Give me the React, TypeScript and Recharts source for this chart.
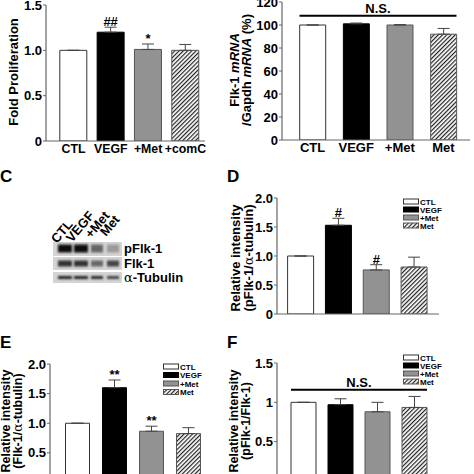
import React from 'react';
import { BarChart, Bar, XAxis, YAxis, Cell, ErrorBar, LabelList, ReferenceLine, Legend } from 'recharts';

const FONT = '"Liberation Sans", Arial, Helvetica, sans-serif';

// panel A - proliferation
const prolifGroups = ['CTL', 'VEGF', '+Met', '+comC'];
const prolifMean = [1.0, 1.2, 1.01, 1.0];
const prolifErr = [0, 0.055, 0.06, 0.065];
const prolifSig = ['', '##', '*', ''];

// shared groups for B, D, E, F
const groups = ['CTL', 'VEGF', '+Met', 'Met'];

// panel B - Flk-1 mRNA
const mrnaMean = [100, 101, 100, 92];
const mrnaErr = [0, 0.7, 0.3, 5];
const mrnaNS = 108;

// panel D - pFlk-1 / tubulin
const pflkTubMean = [1.0, 1.53, 0.76, 0.81];
const pflkTubErr = [0, 0.12, 0.09, 0.17];
const pflkTubSig = ['', '#', '#', ''];

// panel E - Flk-1 / tubulin
const flkTubMean = [1.0, 1.6, 0.865, 0.825];
const flkTubErr = [0, 0.13, 0.085, 0.1];
const flkTubSig = ['', '**', '**', ''];

// panel F - pFlk-1 / Flk-1
const pflkFlkMean = [1.0, 0.97, 0.88, 0.935];
const pflkFlkErr = [0, 0.075, 0.12, 0.14];
const pflkFlkNS = 1.16;

const ticks15 = [0, 0.5, 1, 1.5];
const ticks120 = [0, 20, 40, 60, 80, 100, 120];
const ticks20 = [0, 0.5, 1, 1.5, 2];

const fmt1 = (v: number) => (v === 0 ? '0' : v.toFixed(1));
const fmtInt = (v: number) => String(v);

const FILLS = ['#ffffff', '#000000', '#929292', 'hatch'];
const STROKES = ['#333', '#000', '#555', '#555'];

const Hatch = ({ id }: { id: string }) => (
  <pattern id={id} patternUnits="userSpaceOnUse" width="3" height="3" patternTransform="rotate(45)">
    <rect width="3" height="3" fill="#fff" />
    <line x1="0.6" y1="0" x2="0.6" y2="3" stroke="#222" strokeWidth="1.2" />
  </pattern>
);

const alpha = (
  <tspan fontFamily='"DejaVu Serif", serif' fontWeight={400}>
    α
  </tspan>
);

type PanelProps = {
  id: string;
  left: number;
  top: number;
  width: number;
  height: number;
  plot: { l: number; r: number; t: number; b: number };
  padL: number;
  padR: number;
  barSize: number;
  names: string[];
  mean: number[];
  err: number[];
  sig?: string[];
  ns?: number;
  domain: [number, number];
  ticks: number[];
  fmt: (v: number) => string;
  xTicks: boolean;
  xFont?: number;
  yLines: React.ReactNode[];
  yXs: number[];
  yCy: number;
  yFont?: number;
  legend?: { left: number; top: number; row: number; fs: number };
};

const LegendBox = ({ id, row, fs }: { id: string; row: number; fs: number }) => (
  <svg width={60} height={row * 4 + 2} style={{ display: 'block' }}>
    <defs>
      <Hatch id={id} />
    </defs>
    {groups.map((g, i) => (
      <g key={g}>
        <rect
          x={0.5}
          y={i * row + 1}
          width={15}
          height={5}
          fill={FILLS[i] === 'hatch' ? `url(#${id})` : FILLS[i]}
          stroke={STROKES[i]}
          strokeWidth={1}
        />
        <text x={17} y={i * row + 6.5} fontSize={fs} fontWeight={700} fontFamily={FONT} fill="#000">
          {g}
        </text>
      </g>
    ))}
  </svg>
);

function Panel(p: PanelProps) {
  const data = p.names.map((n, i) => ({
    name: n,
    value: p.mean[i],
    err: [0, p.err[i]],
    sig: p.sig ? p.sig[i] : '',
  }));
  const xh = 20;
  const margin = {
    top: p.plot.t - p.top,
    right: p.left + p.width - p.plot.r,
    bottom: p.top + p.height - p.plot.b - xh,
    left: 0,
  };
  const hatchId = `hatch-${p.id}`;

  const renderSig = (props: any) => {
    const vb = props.viewBox ?? props;
    const i = props.index;
    if (!props.value) return null;
    const errPx = (vb.height * p.err[i]) / p.mean[i];
    return (
      <text
        x={vb.x + vb.width / 2}
        y={vb.y - errPx - 1}
        textAnchor="middle"
        fontSize={13}
        fontWeight={700}
        fontFamily={FONT}
        fill="#000"
      >
        {props.value}
      </text>
    );
  };

  const renderYLabel = () => (
    <g>
      {p.yLines.map((l, i) => (
        <text
          key={i}
          transform={`translate(${p.yXs[i] - p.left},${p.yCy - p.top}) rotate(-90)`}
          textAnchor="middle"
          dy="0.35em"
          fontSize={p.yFont ?? 13}
          fontWeight={700}
          fontFamily={FONT}
          fill="#000"
        >
          {l}
        </text>
      ))}
    </g>
  );

  const half = p.barSize / 2;

  return (
    <div style={{ position: 'absolute', left: p.left, top: p.top }}>
      <BarChart width={p.width} height={p.height} data={data} margin={margin}>
        <defs>
          <Hatch id={hatchId} />
        </defs>
        <XAxis
          dataKey="name"
          height={xh}
          padding={{ left: p.padL, right: p.padR }}
          axisLine={{ stroke: '#666', strokeWidth: 1.2 }}
          tickLine={false}
          tickSize={0}
          tickMargin={3}
          interval={0}
          tick={p.xTicks ? { fill: '#000', fontSize: p.xFont ?? 13, fontWeight: 700, fontFamily: FONT } : false}
        />
        <YAxis
          width={p.plot.l - p.left}
          domain={p.domain}
          ticks={p.ticks}
          interval={0}
          tickFormatter={p.fmt}
          allowDataOverflow
          axisLine={{ stroke: '#666', strokeWidth: 1.2 }}
          tickLine={{ stroke: '#666' }}
          tickSize={3}
          tickMargin={1}
          tick={{ fill: '#000', fontSize: 13, fontWeight: 700, fontFamily: FONT }}
          label={{ content: renderYLabel }}
        />
        <Bar dataKey="value" barSize={p.barSize} isAnimationActive={false}>
          {data.map((d, i) => (
            <Cell
              key={d.name}
              fill={FILLS[i] === 'hatch' ? `url(#${hatchId})` : FILLS[i]}
              stroke={STROKES[i]}
              strokeWidth={1}
            />
          ))}
          <ErrorBar dataKey="err" width={6} stroke="#444" strokeWidth={1} />
          {p.sig && <LabelList dataKey="sig" content={renderSig} />}
        </Bar>
        {p.ns != null && (
          <ReferenceLine
            segment={[
              { x: p.names[0], y: p.ns },
              { x: p.names[p.names.length - 1], y: p.ns },
            ]}
            shape={(s: any) => (
              <line x1={s.x1 - half} y1={s.y1} x2={s.x2 + half} y2={s.y2} stroke="#000" strokeWidth={2} />
            )}
            label={{ value: 'N.S.', position: 'top', offset: 3, fill: '#000', fontSize: 13, fontWeight: 700, fontFamily: FONT }}
          />
        )}
        {p.legend && (
          <Legend
            layout="vertical"
            align="center"
            verticalAlign="middle"
            wrapperStyle={{ left: p.legend.left - p.left, top: p.legend.top - p.top, width: 60 }}
            content={() => <LegendBox id={`lg-${p.id}`} row={p.legend!.row} fs={p.legend!.fs} />}
          />
        )}
      </BarChart>
    </div>
  );
}

const laneLabels = [
  { t: 'CTL', x: 57, y: 244 },
  { t: 'VEGF', x: 72, y: 243 },
  { t: '+Met', x: 91, y: 239 },
  { t: 'Met', x: 106, y: 237 },
];
const blotRows = [
  { name: 'pFlk-1', y: 242, h: 14, bandY: 248.5, bandH: 8, shades: ['#111', '#080808', '#666', '#9a9a9a'] },
  { name: 'Flk-1', y: 257, h: 13, bandY: 263.5, bandH: 6, shades: ['#333', '#333', '#666', '#444'] },
  { name: 'Tubulin', y: 272, h: 11, bandY: 277.5, bandH: 3, shades: ['#222', '#222', '#2a2a2a', '#444'] },
];
const laneX = [58, 74, 91, 107];
const laneW = [14, 14, 12, 12];

const Decor = () => (
  <svg width={474} height={474} style={{ position: 'absolute', left: 0, top: 0 }}>
    <defs>
      <filter id="blur" x="-30%" y="-60%" width="160%" height="220%">
        <feGaussianBlur stdDeviation="1.3" />
      </filter>
    </defs>
    <g fontFamily={FONT} fontWeight={700} fill="#000">
      <text x={0} y={182} fontSize={17}>C</text>
      <text x={227} y={182} fontSize={17}>D</text>
      <text x={0} y={348} fontSize={17}>E</text>
      <text x={227} y={348} fontSize={17}>F</text>
    </g>
    {blotRows.map((r) => (
      <g key={r.name}>
        <rect x={53} y={r.y} width={69} height={r.h} fill="#d4d4d4" />
        {laneX.map((x, i) => (
          <rect key={i} x={x} y={r.bandY - r.bandH / 2} width={laneW[i]} height={r.bandH} fill={r.shades[i]} filter="url(#blur)" />
        ))}
      </g>
    ))}
    <g fontFamily={FONT} fontWeight={700} fontSize={13} fill="#000">
      <text x={124} y={253}>pFlk-1</text>
      <text x={124} y={267.5}>Flk-1</text>
      <text x={124} y={282}>
        {alpha}-Tubulin
      </text>
    </g>
    <g fontFamily={FONT} fontWeight={700} fontSize={13} fill="#000">
      {laneLabels.map((l) => (
        <text key={l.t} transform={`translate(${l.x},${l.y}) rotate(-50)`}>
          {l.t}
        </text>
      ))}
    </g>
  </svg>
);

export default function App() {
  return (
    <div style={{ position: 'absolute', left: 0, top: 0, width: 474, height: 474, overflow: 'hidden', background: '#fff' }}>
      <Decor />
      <Panel
        id="a"
        left={0}
        top={0}
        width={237}
        height={170}
        plot={{ l: 46, r: 205, t: 5, b: 141 }}
        padL={8.8}
        padR={0.9}
        barSize={27}
        names={prolifGroups}
        mean={prolifMean}
        err={prolifErr}
        sig={prolifSig}
        domain={[0, 1.5]}
        ticks={ticks15}
        fmt={fmt1}
        xTicks
        xFont={12.3}
        yLines={['Fold Proliferation']}
        yXs={[13]}
        yCy={72}
      />
      <Panel
        id="b"
        left={222}
        top={0}
        width={252}
        height={170}
        plot={{ l: 282, r: 470, t: 2, b: 140 }}
        padL={8.7}
        padR={4.7}
        barSize={26}
        names={groups}
        mean={mrnaMean}
        err={mrnaErr}
        ns={mrnaNS}
        domain={[0, 120]}
        ticks={ticks120}
        fmt={fmtInt}
        xTicks
        yLines={[
          <>
            Flk-1 <tspan fontStyle="italic">mRNA</tspan>
          </>,
          <>
            /Gapdh <tspan fontStyle="italic">mRNA</tspan> (%)
          </>,
        ]}
        yXs={[234, 246]}
        yCy={70}
      />
      <Panel
        id="d"
        left={222}
        top={185}
        width={252}
        height={150}
        plot={{ l: 277, r: 439, t: 198, b: 314 }}
        padL={4.6}
        padR={6.1}
        barSize={26}
        names={groups}
        mean={pflkTubMean}
        err={pflkTubErr}
        sig={pflkTubSig}
        domain={[0, 2]}
        ticks={ticks20}
        fmt={fmt1}
        xTicks={false}
        yLines={['Relative intensity', <>(pFlk-1/{alpha}-tubulin)</>]}
        yXs={[235, 248]}
        yCy={258}
        legend={{ left: 403, top: 198, row: 8, fs: 8 }}
      />
      <Panel
        id="e"
        left={0}
        top={350}
        width={237}
        height={160}
        plot={{ l: 50, r: 212, t: 364, b: 482.5 }}
        padL={8.5}
        padR={5.5}
        barSize={24}
        names={groups}
        mean={flkTubMean}
        err={flkTubErr}
        sig={flkTubSig}
        domain={[0, 2]}
        ticks={ticks20}
        fmt={fmt1}
        xTicks={false}
        yLines={['Relative intensity', <>(Flk-1/{alpha}-tubulin)</>]}
        yXs={[6, 18]}
        yCy={421}
        yFont={12.5}
        legend={{ left: 163, top: 363, row: 8.5, fs: 8 }}
      />
      <Panel
        id="f"
        left={222}
        top={345}
        width={252}
        height={160}
        plot={{ l: 277, r: 439, t: 363, b: 481 }}
        padL={8}
        padR={6}
        barSize={25}
        names={groups}
        mean={pflkFlkMean}
        err={pflkFlkErr}
        ns={pflkFlkNS}
        domain={[0, 1.5]}
        ticks={ticks15}
        fmt={fmtInt}
        xTicks={false}
        yLines={['Relative intensity', '(pFlk-1/Flk-1)']}
        yXs={[234, 246]}
        yCy={421}
        yFont={12.5}
        legend={{ left: 403, top: 354, row: 8, fs: 8 }}
      />
    </div>
  );
}
